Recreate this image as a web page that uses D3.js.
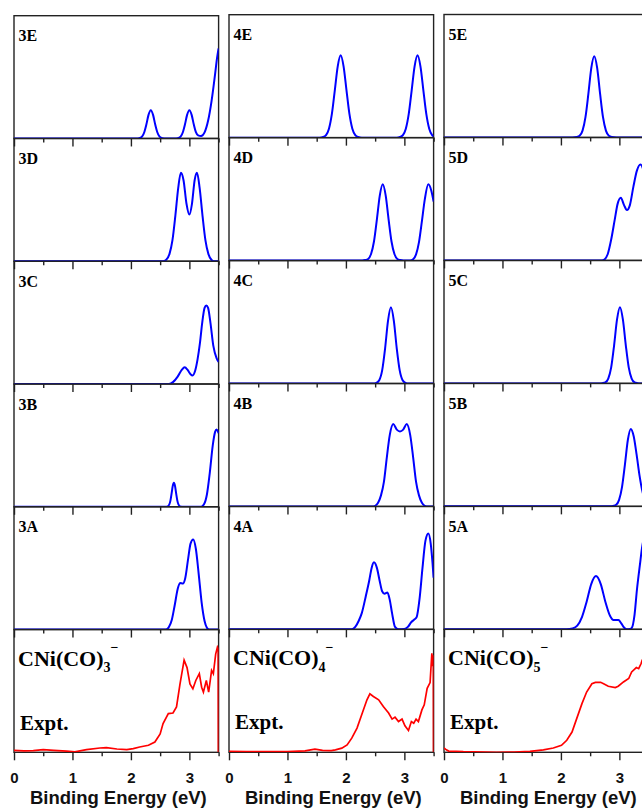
<!DOCTYPE html>
<html>
<head>
<meta charset="utf-8">
<script src="https://cdn.jsdelivr.net/npm/d3@7"></script>
<style>
  body { margin: 0; background: #fff; }
  .chart { width: 642px; height: 809px; }
</style>
</head>
<body>
<div class="chart"></div>
<script>
// energy axis ticks (eV)
const majorTicks = [0, 1, 2, 3];
const minorTicks = [0.5, 1.5, 2.5, 3.5];
const rowNames = ['E', 'D', 'C', 'B', 'A'];
const clusterSizes = [3, 4, 5];

// simulated spectra, [binding energy, relative intensity]
const sim3E = [[0,0],[2.1,0],[2.14,0.002],[2.19,0.015],[2.23,0.053],[2.265,0.115],[2.3,0.19],[2.34,0.23],[2.38,0.19],[2.415,0.115],[2.45,0.053],[2.49,0.015],[2.54,0.002],[2.6,0],[2.75,0],[2.8,0.002],[2.85,0.015],[2.89,0.053],[2.925,0.115],[2.96,0.19],[3.0,0.23],[3.04,0.19],[3.075,0.115],[3.11,0.053],[3.15,0.025],[3.2,0.02],[3.26,0.05],[3.32,0.144],[3.38,0.307],[3.44,0.525],[3.475,0.66],[3.5,0.733]];
const sim3D = [[0,0],[2.55,0],[2.6,0.01],[2.66,0.06],[2.71,0.17],[2.76,0.37],[2.81,0.6],[2.855,0.72],[2.9,0.66],[2.95,0.47],[3.0,0.38],[3.045,0.47],[3.09,0.66],[3.13,0.72],[3.175,0.6],[3.225,0.37],[3.275,0.17],[3.325,0.06],[3.38,0.01],[3.42,0],[3.5,0]];
const sim3C = [[0,0],[2.65,0],[2.72,0.015],[2.8,0.06],[2.87,0.115],[2.92,0.136],[2.97,0.115],[3.02,0.08],[3.055,0.07],[3.1,0.11],[3.14,0.2],[3.18,0.33],[3.22,0.5],[3.26,0.62],[3.29,0.64],[3.32,0.62],[3.36,0.5],[3.41,0.31],[3.465,0.21],[3.5,0.18]];
const sim3B = [[0,0],[2.6,0],[2.625,0.002],[2.655,0.017],[2.675,0.048],[2.695,0.105],[2.715,0.168],[2.735,0.195],[2.755,0.168],[2.775,0.105],[2.795,0.048],[2.815,0.017],[2.845,0.002],[2.9,0],[3.2,0],[3.25,0.02],[3.3,0.1],[3.35,0.28],[3.4,0.5],[3.44,0.61],[3.465,0.63],[3.5,0.6]];
const sim3A = [[0,0],[2.6,0],[2.65,0.02],[2.7,0.08],[2.75,0.2],[2.8,0.33],[2.84,0.38],[2.89,0.375],[2.93,0.42],[2.98,0.58],[3.02,0.7],[3.065,0.733],[3.11,0.66],[3.16,0.45],[3.21,0.22],[3.26,0.07],[3.3,0.015],[3.34,0],[3.5,0]];

const sim4E = [[0,0],[1.55,0],[1.61,0.005],[1.66,0.021],[1.71,0.073],[1.76,0.193],[1.81,0.385],[1.86,0.58],[1.91,0.67],[1.96,0.58],[2.01,0.385],[2.06,0.193],[2.11,0.073],[2.16,0.021],[2.21,0.005],[2.27,0],[2.87,0],[2.925,0.005],[2.975,0.021],[3.025,0.073],[3.075,0.193],[3.125,0.385],[3.175,0.58],[3.225,0.67],[3.275,0.58],[3.325,0.385],[3.375,0.193],[3.425,0.073],[3.475,0.021],[3.5,0.01]];
const sim4D = [[0,0],[2.28,0],[2.33,0.004],[2.38,0.013],[2.43,0.053],[2.48,0.155],[2.53,0.335],[2.58,0.53],[2.63,0.62],[2.68,0.53],[2.73,0.335],[2.78,0.155],[2.83,0.053],[2.88,0.013],[2.93,0.004],[2.98,0],[3.1,0],[3.15,0.01],[3.2,0.05],[3.25,0.15],[3.3,0.32],[3.35,0.5],[3.41,0.62],[3.46,0.57],[3.5,0.48]];
const sim4C = [[0,0],[2.47,0],[2.52,0.005],[2.57,0.027],[2.62,0.107],[2.67,0.284],[2.72,0.51],[2.77,0.62],[2.82,0.51],[2.87,0.284],[2.92,0.107],[2.97,0.027],[3.02,0.005],[3.07,0],[3.5,0]];
const sim4B = [[0,0],[2.45,0],[2.5,0.005],[2.55,0.03],[2.6,0.09],[2.65,0.2],[2.7,0.4],[2.75,0.58],[2.81,0.67],[2.87,0.625],[2.925,0.61],[2.98,0.625],[3.04,0.67],[3.1,0.58],[3.15,0.4],[3.2,0.2],[3.25,0.09],[3.3,0.03],[3.35,0.005],[3.4,0],[3.5,0]];
const sim4A = [[0,0],[2.1,0],[2.16,0.02],[2.22,0.07],[2.27,0.13],[2.34,0.27],[2.4,0.4],[2.44,0.5],[2.48,0.545],[2.53,0.5],[2.575,0.4],[2.62,0.31],[2.66,0.29],[2.71,0.3],[2.75,0.24],[2.79,0.13],[2.84,0.02],[2.9,0],[3.0,0.003],[3.06,0.02],[3.12,0.06],[3.17,0.08],[3.21,0.1],[3.26,0.25],[3.31,0.5],[3.36,0.72],[3.41,0.78],[3.45,0.7],[3.48,0.55],[3.5,0.42]];

const sim5E = [[0,0],[2.2,0],[2.27,0.004],[2.32,0.014],[2.37,0.056],[2.42,0.165],[2.47,0.356],[2.52,0.566],[2.57,0.66],[2.62,0.566],[2.67,0.356],[2.72,0.165],[2.77,0.056],[2.82,0.014],[2.87,0.004],[2.95,0],[3.5,0]];
const sim5D = [[0,0],[2.7,0],[2.75,0.01],[2.8,0.05],[2.86,0.17],[2.92,0.33],[2.97,0.46],[3.025,0.51],[3.08,0.45],[3.13,0.41],[3.18,0.45],[3.24,0.6],[3.3,0.73],[3.36,0.78],[3.42,0.72],[3.5,0.52]];
const sim5C = [[0,0],[2.66,0],[2.71,0.002],[2.76,0.008],[2.81,0.039],[2.86,0.13],[2.91,0.31],[2.96,0.52],[3.01,0.62],[3.06,0.52],[3.11,0.31],[3.16,0.13],[3.21,0.039],[3.26,0.008],[3.31,0.002],[3.36,0],[3.5,0]];
const sim5B = [[0,0],[2.85,0],[2.895,0.004],[2.945,0.013],[2.995,0.053],[3.045,0.157],[3.095,0.34],[3.145,0.54],[3.195,0.63],[3.245,0.57],[3.295,0.42],[3.345,0.25],[3.395,0.12],[3.445,0.048],[3.5,0.015]];
const sim5A = [[0,0],[2.1,0],[2.2,0.007],[2.28,0.03],[2.36,0.1],[2.44,0.225],[2.52,0.37],[2.6,0.433],[2.68,0.37],[2.76,0.225],[2.84,0.11],[2.9,0.075],[2.95,0.075],[2.985,0.076],[3.03,0.05],[3.08,0.015],[3.13,0],[3.18,0.003],[3.21,0.01],[3.26,0.12],[3.3,0.32],[3.35,0.52],[3.39,0.67],[3.45,0.8],[3.5,0.85]];

// measured photoelectron spectra
const expt3 = [[0,0.016],[0.17,0.012],[0.33,0.014],[0.5,0.022],[0.68,0.016],[0.9,0.01],[1.04,0.003],[1.24,0.022],[1.47,0.035],[1.58,0.038],[1.76,0.027],[1.93,0.022],[2.04,0.03],[2.15,0.043],[2.3,0.057],[2.41,0.084],[2.5,0.15],[2.55,0.234],[2.64,0.315],[2.72,0.32],[2.78,0.37],[2.84,0.557],[2.91,0.75],[2.96,0.69],[3.01,0.557],[3.06,0.517],[3.11,0.585],[3.17,0.64],[3.21,0.53],[3.24,0.49],[3.29,0.585],[3.33,0.49],[3.38,0.667],[3.41,0.64],[3.45,0.8],[3.48,0.857],[3.492,0.846],[3.495,0]];
const expt4 = [[0,0.008],[0.3,0.006],[0.6,0.005],[1.0,0.006],[1.3,0.012],[1.47,0.025],[1.6,0.015],[1.75,0.014],[1.82,0.02],[1.93,0.034],[2.02,0.06],[2.1,0.115],[2.19,0.197],[2.27,0.305],[2.36,0.427],[2.41,0.476],[2.47,0.454],[2.56,0.427],[2.64,0.372],[2.73,0.319],[2.79,0.27],[2.84,0.286],[2.9,0.25],[2.96,0.27],[3.01,0.215],[3.07,0.177],[3.12,0.25],[3.16,0.237],[3.2,0.27],[3.24,0.25],[3.3,0.345],[3.34,0.386],[3.39,0.52],[3.44,0.567],[3.47,0.806],[3.485,0.7],[3.495,0.79],[3.498,0]];
const expt5 = [[0,0.035],[0.04,0.02],[0.08,0.01],[0.33,0.005],[0.9,0],[1.2,0.002],[1.47,0.008],[1.7,0.02],[1.87,0.035],[2.01,0.057],[2.1,0.098],[2.19,0.165],[2.27,0.274],[2.36,0.396],[2.44,0.49],[2.53,0.558],[2.59,0.569],[2.68,0.569],[2.73,0.558],[2.81,0.537],[2.93,0.526],[2.98,0.537],[3.07,0.572],[3.16,0.6],[3.21,0.653],[3.29,0.689],[3.33,0.68],[3.37,0.72],[3.39,0.75],[3.45,0.78],[3.5,0.8]];

const simSpectra = [
  [sim3E, sim3D, sim3C, sim3B, sim3A],
  [sim4E, sim4D, sim4C, sim4B, sim4A],
  [sim5E, sim5D, sim5C, sim5B, sim5A]
];
const exptSpectra = [expt3, expt4, expt5];

const width = 642, height = 809;
const colLeft = [14, 229, 444];
const colTop = [15.7, 14.7, 14.5];
const plotW = 204.6;
const plotBottom = 752.3;

const svg = d3.select('.chart').append('svg')
  .attr('width', width)
  .attr('height', height)
  .style('background', '#fff');

const sans = '"Liberation Sans", Arial, sans-serif';
const serif = '"Liberation Serif", "Times New Roman", serif';

clusterSizes.forEach((n, c) => {
  const x = d3.scaleLinear().domain([0, 3.5]).range([colLeft[c], colLeft[c] + plotW]);
  const rowH = (plotBottom - colTop[c]) / 6;

  for (let r = 0; r < 6; r++) {
    const top = colTop[c] + r * rowH;
    const bottom = top + rowH;
    const y = d3.scaleLinear().domain([0, 1]).range([bottom, top]);
    const id = 'clip' + c + r;

    svg.append('clipPath').attr('id', id)
      .append('rect')
      .attr('x', colLeft[c]).attr('y', top - 2)
      .attr('width', plotW).attr('height', rowH + 2);

    svg.append('rect')
      .attr('x', colLeft[c]).attr('y', top)
      .attr('width', plotW).attr('height', rowH)
      .style('fill', 'none')
      .style('stroke', '#222')
      .style('stroke-width', 1.4);

    const isExpt = r === 5;
    const data = isExpt ? exptSpectra[c] : simSpectra[c][r];
    const line = d3.line()
      .x(d => x(d[0]))
      .y(d => y(d[1]))
      .curve(isExpt ? d3.curveLinear : d3.curveMonotoneX);

    svg.append('path')
      .datum(data)
      .attr('d', line)
      .attr('clip-path', `url(#${id})`)
      .style('fill', 'none')
      .style('stroke', isExpt ? '#ff0000' : '#0000ff')
      .style('stroke-width', isExpt ? 1.7 : 2);

    // ticks hang below each panel
    const major = svg.append('g')
      .attr('transform', `translate(0,${bottom})`)
      .call(d3.axisBottom(x).tickValues(majorTicks).tickSize(8).tickPadding(12)
        .tickFormat(isExpt ? d3.format('d') : ''));
    const minor = svg.append('g')
      .attr('transform', `translate(0,${bottom})`)
      .call(d3.axisBottom(x).tickValues(minorTicks).tickSize(4).tickFormat(''));
    [major, minor].forEach(g => {
      g.select('.domain').remove();
      g.selectAll('line').style('stroke', '#222').style('stroke-width', 1.4);
    });
    major.selectAll('text')
      .style('font-family', sans)
      .style('font-weight', 'bold')
      .style('font-size', '15px')
      .style('fill', '#111');

    if (!isExpt) {
      svg.append('text')
        .attr('x', colLeft[c] + 4.5)
        .attr('y', top + 25.5)
        .style('font-family', serif)
        .style('font-weight', 'bold')
        .style('font-size', '16px')
        .text(n + rowNames[r]);
    } else {
      const t = svg.append('text')
        .attr('x', colLeft[c] + 4)
        .attr('y', top + 36)
        .style('font-family', serif)
        .style('font-weight', 'bold')
        .style('font-size', '22px');
      t.append('tspan').text('CNi(CO)');
      t.append('tspan').attr('dy', 6.5).style('font-size', '14px').text(n);
      t.append('tspan').attr('dy', -20).style('font-size', '14px').text('\u2212');

      svg.append('text')
        .attr('x', colLeft[c] + 6)
        .attr('y', top + 100)
        .style('font-family', serif)
        .style('font-weight', 'bold')
        .style('font-size', '21px')
        .text('Expt.');
    }
  }

  svg.append('text')
    .attr('x', colLeft[c] + plotW / 2 + 2)
    .attr('y', 804)
    .attr('text-anchor', 'middle')
    .style('font-family', sans)
    .style('font-weight', 'bold')
    .style('font-size', '18.5px')
    .style('fill', '#111')
    .text('Binding Energy (eV)');
});
</script>
</body>
</html>
